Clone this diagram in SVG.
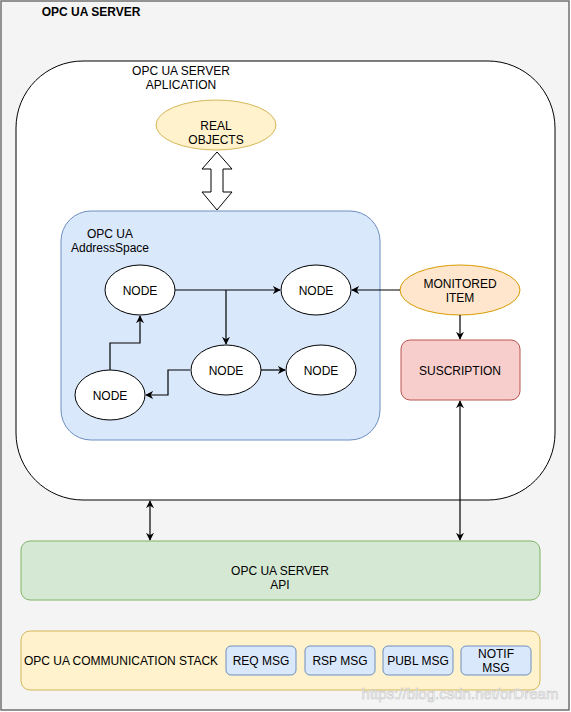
<svg xmlns="http://www.w3.org/2000/svg" width="571" height="712" viewBox="0 0 571 712">
<defs>
<marker id="arr" viewBox="0 0 10 10" refX="9" refY="5" markerWidth="8" markerHeight="8" markerUnits="userSpaceOnUse" orient="auto-start-reverse">
<path d="M0,0 L10,5 L0,10 L3,5 Z" fill="#000"/>
</marker>
<style>
text{font-family:"Liberation Sans",Arial,sans-serif;font-size:12px;fill:#000;text-anchor:middle}
.node{fill:#fff;stroke:#000;stroke-width:1}
.blue{fill:#dae8fc;stroke:#6c8ebf;stroke-width:1}
.conn{fill:none;stroke:#000;stroke-width:1.2}
</style>
</defs>
<g id="frame">
<rect x="1" y="1" width="568" height="709" fill="#f4f4f4" stroke="#707070" stroke-width="1.5"/>
<text x="91" y="16" style="font-weight:bold">OPC UA SERVER</text>
</g>
<g id="app">
<rect x="16" y="61" width="539" height="439" rx="67" ry="67" fill="#fff" stroke="#000" stroke-width="1"/>
<text x="181" y="75">OPC UA SERVER</text>
<text x="181" y="89">APLICATION</text>
</g>
<g id="real-objects">
<ellipse cx="216" cy="125" rx="60" ry="25" fill="#fff2cc" stroke="#d6b656"/>
<text x="216" y="130">REAL</text>
<text x="216" y="144">OBJECTS</text>
</g>
<g id="address-space">
<rect x="61" y="211" width="319" height="229" rx="30" ry="30" class="blue"/>
<text x="110" y="238">OPC UA</text>
<text x="110" y="252">AddressSpace</text>
</g>
<g id="node1"><ellipse cx="140" cy="290" rx="35" ry="25" class="node"/><text x="140" y="295">NODE</text></g>
<g id="node2"><ellipse cx="316" cy="290" rx="35" ry="25" class="node"/><text x="316" y="295">NODE</text></g>
<g id="node3"><ellipse cx="226" cy="370" rx="35" ry="25" class="node"/><text x="226" y="375">NODE</text></g>
<g id="node4"><ellipse cx="321" cy="370" rx="35" ry="25" class="node"/><text x="321" y="375">NODE</text></g>
<g id="node5"><ellipse cx="110" cy="395" rx="35" ry="25" class="node"/><text x="110" y="400">NODE</text></g>
<g id="monitored-item">
<ellipse cx="460" cy="290" rx="60" ry="25" fill="#ffe6cc" stroke="#d79b00"/>
<text x="460" y="288">MONITORED</text>
<text x="460" y="302">ITEM</text>
</g>
<g id="suscription">
<rect x="401" y="340" width="119" height="60" rx="9" ry="9" fill="#f8cecc" stroke="#b85450"/>
<text x="460" y="375">SUSCRIPTION</text>
</g>
<g id="api">
<rect x="21" y="541" width="519" height="59" rx="9" ry="9" fill="#d5e8d4" stroke="#82b366"/>
<text x="280" y="575">OPC UA SERVER</text>
<text x="280" y="589">API</text>
</g>
<g id="comm-stack">
<rect x="21" y="631" width="519" height="59" rx="9" ry="9" fill="#fff2cc" stroke="#d6b656"/>
<text x="121" y="665">OPC UA COMMUNICATION STACK</text>
</g>
<g id="req-msg"><rect x="226" y="646" width="70" height="29" rx="5" ry="5" class="blue"/><text x="261" y="665">REQ MSG</text></g>
<g id="rsp-msg"><rect x="305" y="646" width="70" height="29" rx="5" ry="5" class="blue"/><text x="340" y="665">RSP MSG</text></g>
<g id="publ-msg"><rect x="383" y="646" width="70" height="29" rx="5" ry="5" class="blue"/><text x="418" y="665">PUBL MSG</text></g>
<g id="notif-msg"><rect x="461" y="646" width="70" height="29" rx="5" ry="5" class="blue"/><text x="496" y="658">NOTIF</text><text x="496" y="672">MSG</text></g>
<g id="connectors">
<path d="M217,152 L232,169 L223,169 L223,192 L232,192 L217,210 L202,192 L211,192 L211,169 L202,169 Z" fill="#fff" stroke="#000" stroke-width="1"/>
<path class="conn" d="M175,290 L280,290" marker-end="url(#arr)"/>
<path class="conn" d="M226,290 L226,344" marker-end="url(#arr)"/>
<path class="conn" d="M261,370 L285,370" marker-end="url(#arr)"/>
<path class="conn" d="M190,370 L168,370 L168,395 L146,395" marker-end="url(#arr)"/>
<path class="conn" d="M110,370 L110,343 L140,343 L140,316" marker-end="url(#arr)"/>
<path class="conn" d="M400,290 L352,290" marker-end="url(#arr)"/>
<path class="conn" d="M460,315 L460,339" marker-end="url(#arr)"/>
<path class="conn" d="M460,401 L460,540" marker-start="url(#arr)" marker-end="url(#arr)"/>
<path class="conn" d="M150,501 L150,540" marker-start="url(#arr)" marker-end="url(#arr)"/>
</g>
<g id="watermark">
<text x="460" y="699" style="font-size:15px;fill:#ffffff;fill-opacity:0.6;stroke:#c8c8c8;stroke-width:0.6">https://blog.csdn.net/orDream</text>
</g>
</svg>
